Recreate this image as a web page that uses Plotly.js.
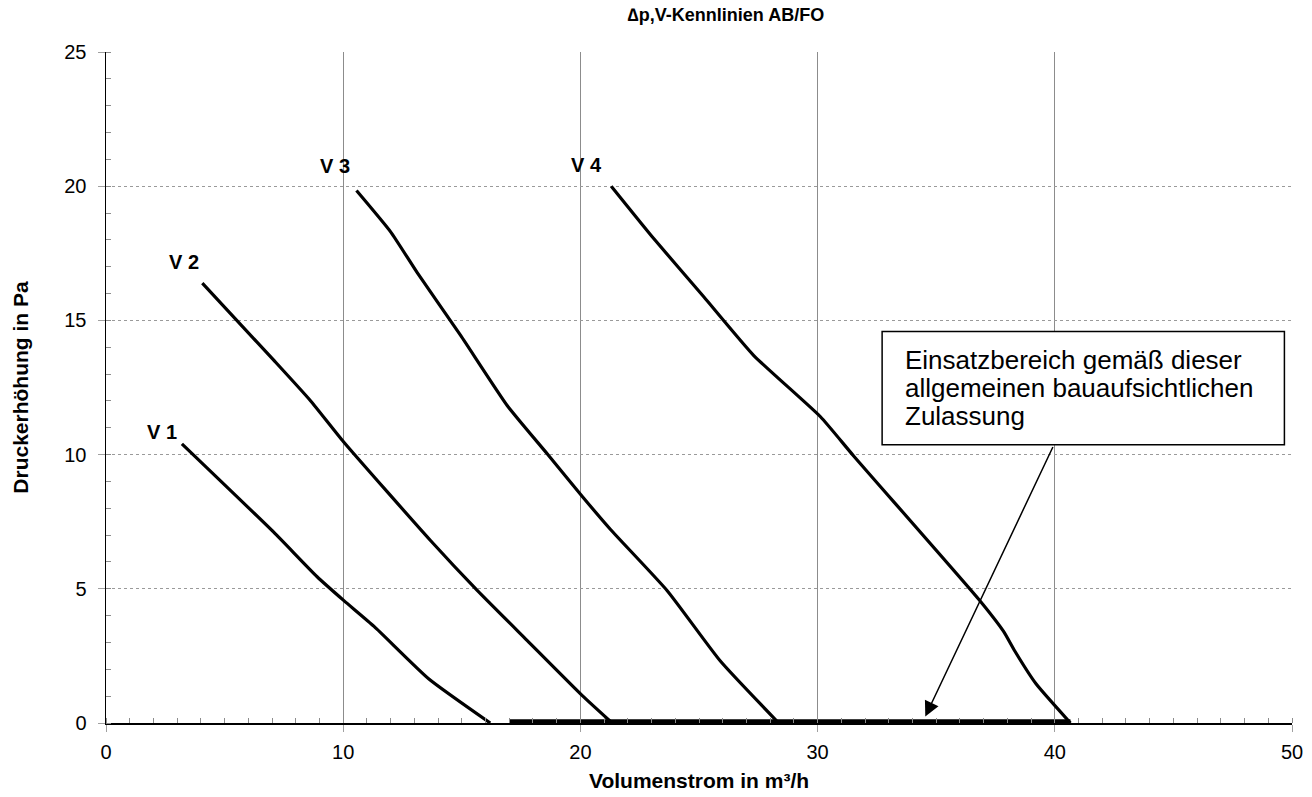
<!DOCTYPE html>
<html><head><meta charset="utf-8">
<script src="https://cdn.plot.ly/plotly-3.0.1.min.js"></script>
<style>html,body{margin:0;padding:0;background:#fff}#chart{width:1312px;height:797px}</style>
</head><body><div id="chart"></div>
<script>
// Curve data (Volumenstrom m³/h, Druckerhöhung Pa)
const v1X = [3.2, 7.08, 8.9, 10.03, 11.3, 13.6, 16.2];
const v1Y = [10.4, 7.1, 5.45, 4.56, 3.6, 1.65, 0];
const v2X = [4.06, 7.08, 8.63, 10.03, 13.68, 15.65, 17.76, 20.08, 21.34];
const v2Y = [16.39, 13.51, 12.0, 10.46, 6.8, 4.94, 3.07, 1.02, 0];
const v3X = [10.56, 12.0, 13.12, 14.95, 16.92, 18.6, 20.08, 21.27, 23.66, 25.9, 28.36];
const v3Y = [19.84, 18.3, 16.78, 14.44, 11.82, 10.03, 8.44, 7.21, 4.93, 2.31, 0];
const v4X = [21.3, 23.09, 25.2, 27.3, 30.12, 31.52, 36.8, 37.84, 38.3, 39.2, 40.66];
const v4Y = [20.0, 18.05, 15.88, 13.7, 11.41, 9.95, 4.6, 3.41, 2.7, 1.47, 0];
const rangeX = [17.0, 40.66];
const rangeY = [0.05, 0.05];

const curveNames = ['V 1', 'V 2', 'V 3', 'V 4'];
const labelX = [2.35, 3.28, 9.64, 20.26];
const labelY = [10.86, 17.19, 20.77, 20.79];

const titleText = '\u2206p,V-Kennlinien AB/FO';
const xTitle = 'Volumenstrom in m³/h';
const yTitle = 'Druckerhöhung in Pa';
const boxLines = ['Einsatzbereich gemäß dieser', 'allgemeinen bauaufsichtlichen', 'Zulassung'];
const boxLineY = [13.53, 12.47, 11.42];
const boxTextX = 33.58;
const boxX = [32.72, 49.68];
const boxY = [10.37, 14.59];
const arrowTip = [34.54, 0.24];
const arrowTail = [39.95, 10.34];

const FONT = 'Arial, "Liberation Sans", sans-serif';
const series = [[v1X, v1Y], [v2X, v2Y], [v3X, v3Y], [v4X, v4Y]];
const traces = series.map((s, i) => ({
  x: s[0], y: s[1], type: 'scatter', mode: 'lines', name: curveNames[i],
  line: {color: '#000', width: 3.2, shape: 'spline', smoothing: 0.5}, cliponaxis: false
}));
traces.push({x: rangeX, y: rangeY, type: 'scatter', mode: 'lines', name: 'Einsatzbereich',
  line: {color: '#000', width: 5}, cliponaxis: false});

const annotations = curveNames.map((n, i) => ({
  x: labelX[i], y: labelY[i], xref: 'x', yref: 'y', text: n, showarrow: false,
  font: {family: FONT, size: 20, weight: 'bold', color: '#000'}, xanchor: 'center', yanchor: 'middle'
}));
boxLines.forEach((t, i) => annotations.push({
  x: boxTextX, y: boxLineY[i], xref: 'x', yref: 'y', xanchor: 'left', yanchor: 'middle',
  text: t, showarrow: false, font: {family: FONT, size: 26, color: '#000'}
}));
annotations.push({
  x: arrowTip[0], y: arrowTip[1], xref: 'x', yref: 'y', ax: arrowTail[0], ay: arrowTail[1],
  axref: 'x', ayref: 'y', text: '', showarrow: true, arrowhead: 2, arrowsize: 2, arrowwidth: 1.5,
  arrowcolor: '#000'
});

const layout = {
  width: 1312, height: 797,
  margin: {l: 106, r: 20, t: 52, b: 74},
  paper_bgcolor: '#fff', plot_bgcolor: '#fff',
  showlegend: false,
  font: {family: FONT, color: '#000'},
  title: {text: titleText, font: {family: FONT, size: 18, weight: 'bold', color: '#000'},
    x: (726 - 106) / 1186, xref: 'paper', xanchor: 'center', y: 1 - 15/797, yref: 'container', yanchor: 'middle'},
  xaxis: {
    range: [0, 50], dtick: 10, tick0: 0, showgrid: true, gridcolor: '#8c8c8c', gridwidth: 1,
    zeroline: false, showline: true, linecolor: '#000', linewidth: 1.5,
    ticks: 'outside', ticklen: 7, tickcolor: '#a0a0a0', tickwidth: 1, ticklabelstandoff: 3,
    tickfont: {family: FONT, size: 20, color: '#000'},
    minor: {dtick: 1, ticks: 'inside', ticklen: 5, tickcolor: '#8c8c8c', tickwidth: 1, showgrid: false},
    title: {text: xTitle, font: {family: FONT, size: 21, weight: 'bold', color: '#000'}, standoff: 12}
  },
  yaxis: {
    range: [0, 25], dtick: 5, tick0: 0, showgrid: true, gridcolor: '#9a9a9a', gridwidth: 1, griddash: 'dot',
    zeroline: false, showline: true, linecolor: '#000', linewidth: 1.5,
    ticks: 'outside', ticklen: 7, tickcolor: '#a0a0a0', tickwidth: 1, ticklabelstandoff: 7,
    tickfont: {family: FONT, size: 20, color: '#000'},
    minor: {dtick: 1, ticks: 'inside', ticklen: 5, tickcolor: '#8c8c8c', tickwidth: 1, showgrid: false},
    title: {text: yTitle, font: {family: FONT, size: 21, weight: 'bold', color: '#000'}, standoff: 30}
  },
  shapes: [{type: 'rect', xref: 'x', yref: 'y', x0: boxX[0], x1: boxX[1], y0: boxY[0], y1: boxY[1],
    line: {color: '#000', width: 1.5}, fillcolor: '#fff', layer: 'above'}],
  annotations: annotations
};
Plotly.newPlot('chart', traces, layout, {displayModeBar: false, staticPlot: true});
</script></body></html>
